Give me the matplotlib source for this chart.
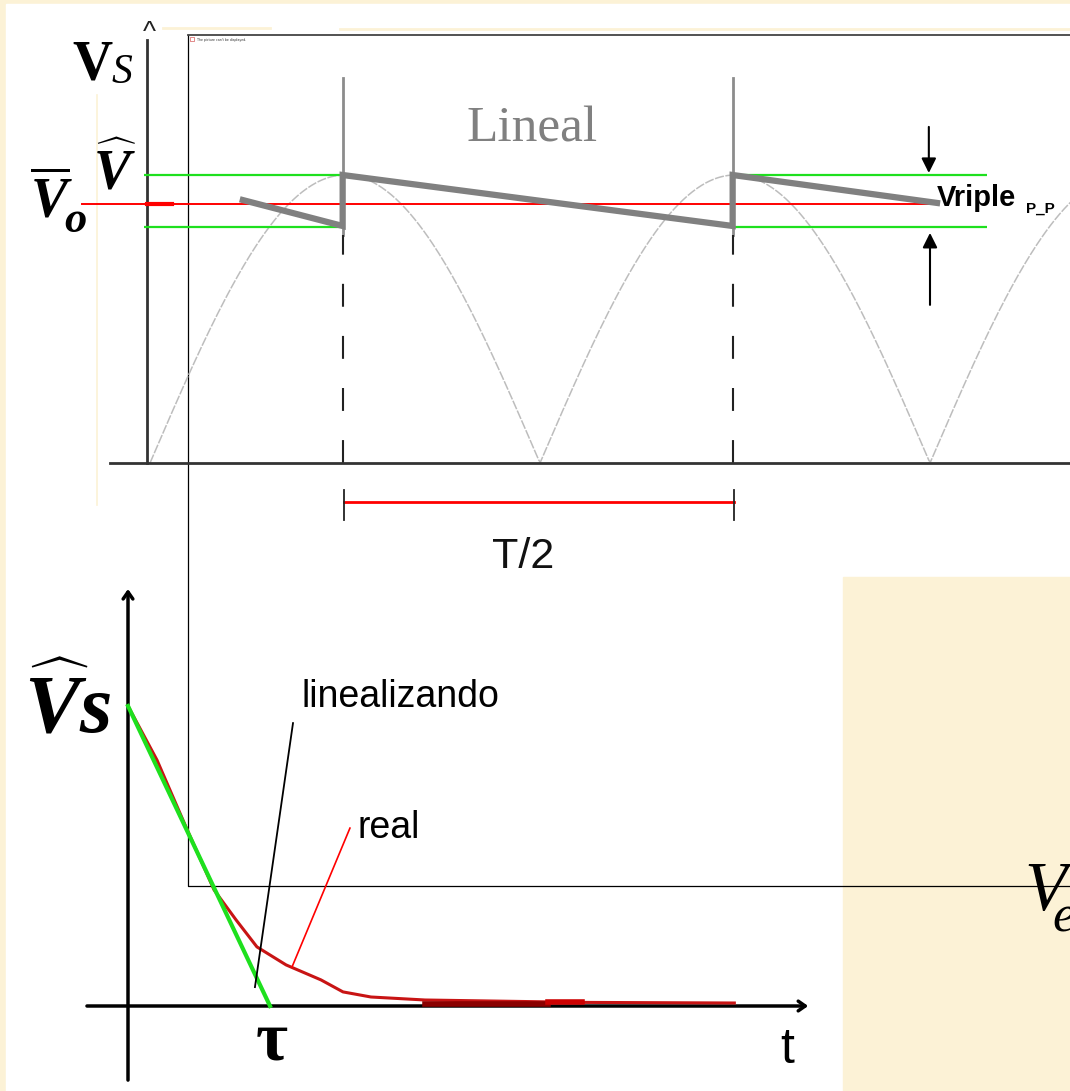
import numpy as np
import matplotlib.pyplot as plt
from matplotlib.patches import Rectangle

plt.rcParams['mathtext.fontset'] = 'custom'
plt.rcParams['mathtext.it'] = 'Liberation Serif:italic:bold'
plt.rcParams['mathtext.rm'] = 'Liberation Serif:bold'
plt.rcParams['mathtext.bf'] = 'Liberation Serif:bold'

# ---- upper sketch: capacitor-filtered full-wave output ----
# time in half periods (T/2 = 1), voltage relative to the peak value
t_switch = [0.494, 1.494]            # instants where the diodes conduct again
t_ripple = [0.238, 0.494, 0.494, 1.494, 1.494, 2.018]
v_ripple = [0.913, 0.823, 1.0, 0.823, 1.0, 0.903]
v_peak = 1.0
v_valley = 0.82
v_mean = 0.90

# ---- lower sketch: capacitor discharge, t in units of tau, v relative to Vs ----
t_real = [0.0, 0.204, 0.408, 0.606, 0.761, 0.908, 1.113, 1.359, 1.514, 1.711, 2.092, 3.2, 4.27]
v_real = [1.0, 0.82, 0.597, 0.387, 0.287, 0.197, 0.137, 0.087, 0.047, 0.03, 0.02, 0.012, 0.01]
t_lin = [0.0, 1.0]
v_lin = [1.0, 0.0]

CREAM = '#fcf2d6'
GREEN = '#1ee01e'
W, H = 1070, 1091

fig = plt.figure(figsize=(W / 100, H / 100), dpi=100)

# page layer, in pixels
page = fig.add_axes([0, 0, 1, 1])
page.set_xlim(0, W)
page.set_ylim(H, 0)
page.axis('off')
page.add_patch(Rectangle((0, 0), W, H, color=CREAM, zorder=0))
page.add_patch(Rectangle((6, 4), W - 6, H - 4, color='white', zorder=0))
page.add_patch(Rectangle((843, 577), W - 843, H - 577, color=CREAM, zorder=1))
page.plot([97, 97], [95, 505], color=CREAM, lw=1.2, zorder=1)
page.plot([163, 270], [28, 28], color=CREAM, lw=2, zorder=1)
page.plot([340, W], [29, 29], color=CREAM, lw=2, zorder=1)
# empty picture frame
page.plot([188, 188, W], [35, 886, 886], color='black', lw=0.9, zorder=2)
page.plot([188, W], [35, 35], color='#444444', lw=1.3, zorder=2)
page.add_patch(Rectangle((190, 37), 4, 4, fill=False, ec='#cc3333', lw=0.4, zorder=2))
page.text(197, 41, "The picture can't be displayed.", fontsize=2.3, color='#333333', zorder=2)

# upper sketch axes
top = fig.add_axes([0, 0, 1, 1])
top.patch.set_alpha(0)
top.axis('off')
top.set_xlim((0 - 150) / 390, (W - 150) / 390)
top.set_ylim((463 - H) / 288, 463 / 288)

tt = np.linspace(0, 2.36, 600)
top.plot(tt, np.abs(np.sin(np.pi * tt)), color='#bdbdbd', lw=1.1, ls=(0, (6, 1)), zorder=2)
top.plot([-0.008, -0.008], [0.0, 1.469], color='#333333', lw=2, zorder=3)
top.plot([-0.103, 2.36], [0, 0], color='#333333', lw=2, zorder=3)

for ts in t_switch:
    top.plot([ts, ts], [0.79, 1.337], color='#8c8c8c', lw=2, zorder=2)
    top.plot([ts, ts], [0.0, 0.79], color='#222222', lw=1.5, ls=(0, (11, 14)), zorder=2)

top.hlines([v_peak, v_valley], -0.015, 0.5, color=GREEN, lw=1.6, zorder=3)
top.hlines([v_peak, v_valley], 1.495, 2.146, color=GREEN, lw=1.6, zorder=3)
top.plot([-0.174, 2.018], [v_mean, v_mean], color='red', lw=1.4, zorder=4)
top.plot([-0.008, 0.056], [v_mean, v_mean], color='red', lw=3, zorder=4)
top.plot(t_ripple, v_ripple, color='#808080', lw=4.5, solid_joinstyle='miter', zorder=5)

arrow = dict(arrowstyle='-|>', color='black', lw=1.5, mutation_scale=22, shrinkA=0, shrinkB=0)
top.annotate('', xy=(1.997, 1.007), xytext=(1.997, 1.167), arrowprops=arrow)
top.annotate('', xy=(2.0, 0.799), xytext=(2.0, 0.549), arrowprops=arrow)

# T/2 bracket
top.plot([t_switch[0] + 0.003, t_switch[1] + 0.003], [-0.135, -0.135], color='red', lw=2, zorder=3)
for ts in t_switch:
    top.plot([ts + 0.003, ts + 0.003], [-0.094, -0.198], color='#222222', lw=1.3, zorder=3)

# lower sketch axes
bot = fig.add_axes([0, 0, 1, 1])
bot.patch.set_alpha(0)
bot.axis('off')
bot.set_xlim((0 - 128) / 142, (W - 128) / 142)
bot.set_ylim((1006 - H) / 300, 1006 / 300)

axis_arrow = dict(arrowstyle='->,head_length=0.5,head_width=0.35', color='black', lw=2.5,
                  shrinkA=0, shrinkB=0)
bot.annotate('', xy=(0, 1.39), xytext=(0, -0.247), arrowprops=axis_arrow)
bot.annotate('', xy=(4.79, 0), xytext=(-0.289, 0), arrowprops=axis_arrow)

bot.plot(t_real, v_real, color='#c81414', lw=2.2, zorder=4)
bot.plot([2.092, 2.96], [0.008, 0.008], color='#8a0000', lw=4, zorder=4)
bot.plot([2.96, 3.2], [0.012, 0.012], color='#cc0000', lw=4, zorder=4)
bot.plot(t_lin, v_lin, color=GREEN, lw=3, zorder=5)
# leaders to the labels
bot.plot([1.162, 0.894], [0.943, 0.063], color='black', lw=1.3, zorder=6)
bot.plot([1.563, 1.155], [0.593, 0.13], color='red', lw=1.2, zorder=6)

# labels
page.text(92, 80, 'V', fontsize=40, family='Liberation Serif', weight='bold', ha='center', va='baseline', zorder=6)
page.text(112, 83, 'S', fontsize=30, family='Liberation Serif', style='italic', ha='left', va='baseline', zorder=6)
page.text(149, 40, '^', fontsize=20, family='Liberation Sans', ha='center', va='baseline', color='#222222', zorder=6)
page.text(93, 190, r'$\widehat{V}$', fontsize=40, ha='left', va='baseline', zorder=6)
page.text(30, 218, r'$\overline{V}$', fontsize=40, ha='left', va='baseline', zorder=6)
page.text(64, 232, 'o', fontsize=32, family='Liberation Serif', style='italic', weight='bold', ha='left', va='baseline', zorder=6)
page.text(532, 141, 'Lineal', fontsize=37, family='Liberation Serif', color='#808080', ha='center', va='baseline', zorder=6)
page.text(937, 206, 'Vriple', fontsize=21, family='Liberation Sans', weight='bold', ha='left', va='baseline', zorder=6)
page.text(1026, 213, 'P_P', fontsize=11, family='Liberation Sans', weight='bold', ha='left', va='baseline', zorder=6)
page.text(523, 568, 'T/2', fontsize=31, family='Liberation Sans', color='#111111', ha='center', va='baseline', zorder=6)

page.text(24, 732, r'$\widehat{V}s$', fontsize=60, ha='left', va='baseline', zorder=6)
page.text(302, 707, 'linealizando', fontsize=27, family='Liberation Sans', ha='left', va='baseline', zorder=6)
page.text(358, 838, 'real', fontsize=27, family='Liberation Sans', ha='left', va='baseline', zorder=6)
page.text(272, 1060, 'τ', fontsize=50, family='Liberation Serif', weight='bold', ha='center', va='baseline', zorder=6)
page.text(787, 1063, 't', fontsize=36, family='Liberation Sans', ha='center', va='baseline', zorder=6)
page.text(1024, 910, 'V', fontsize=50, family='Liberation Serif', style='italic', ha='left', va='baseline', zorder=6)
page.text(1052, 932, 'e', fontsize=38, family='Liberation Serif', style='italic', ha='left', va='baseline', zorder=6)

fig.savefig('out.png', dpi=100)
